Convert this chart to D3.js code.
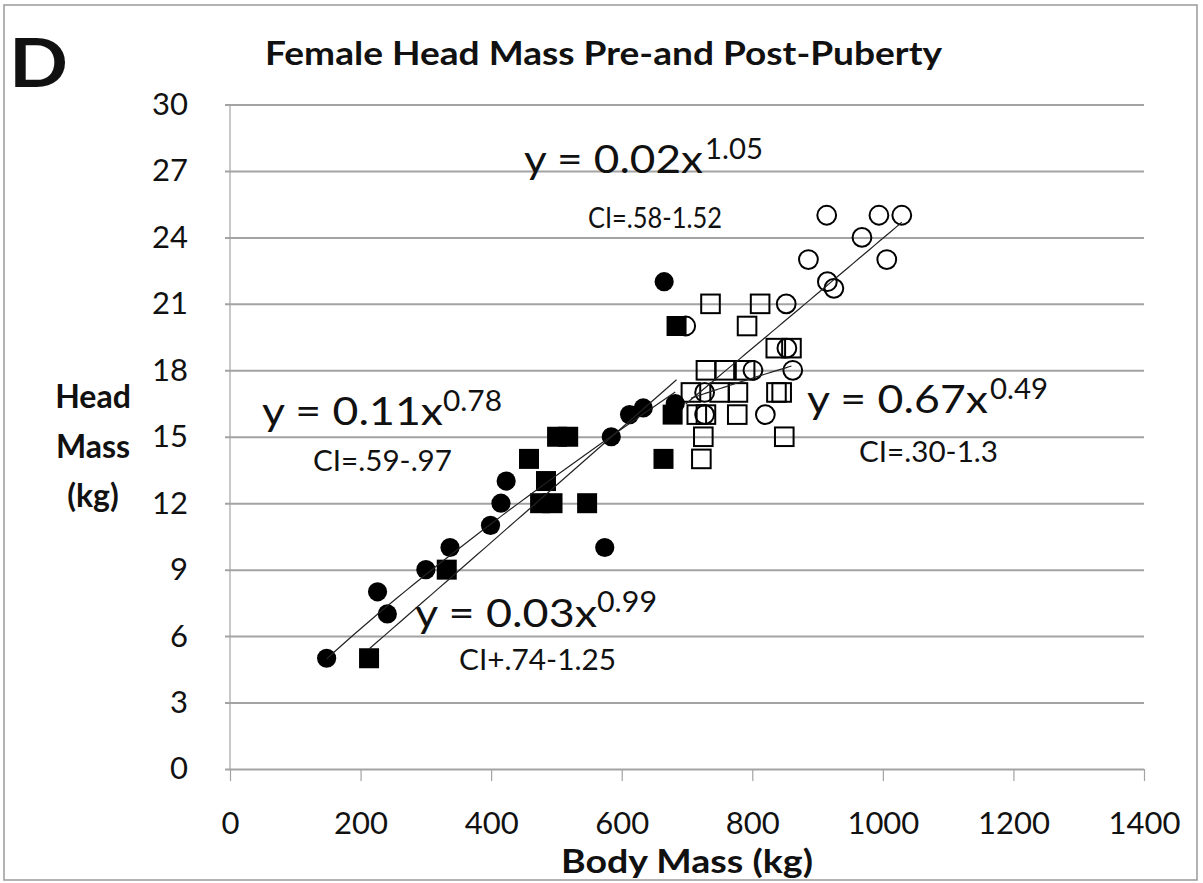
<!DOCTYPE html>
<html>
<head>
<meta charset="utf-8">
<script src="https://cdn.jsdelivr.net/npm/d3@7"></script>
<style>
html,body{margin:0;padding:0;background:#fff;}
svg{display:block;}
text{font-family:Lato,"Open Sans","Liberation Sans",sans-serif;fill:#111;}
</style>
</head>
<body>
<svg id="chart" width="1203" height="883"></svg>
<script>
// ---------- data ----------
const xTicks = [0, 200, 400, 600, 800, 1000, 1200, 1400];
const yTicks = [0, 3, 6, 9, 12, 15, 18, 21, 24, 27, 30];

// pre-puberty (filled circles)
const preCircleX = [148, 226, 241, 300, 337, 399, 415, 423, 574, 584, 612, 633, 682, 665];
const preCircleY = [5, 8, 7, 9, 10, 11, 12, 13, 10, 15, 16, 16.3, 16.5, 22];
// pre-puberty (filled squares)
const preSquareX = [213, 332, 458, 484, 475, 494, 501, 518, 547, 664, 678, 684];
const preSquareY = [5, 9, 14, 13, 12, 12, 15, 15, 12, 14, 16, 20];
// post-puberty (open circles)
const postCircleX = [698, 914, 994, 1029, 968, 886, 1006, 915, 925, 852, 853, 801, 862, 727, 727, 820];
const postCircleY = [20, 25, 25, 25, 24, 23, 23, 22, 21.7, 21, 19, 18, 18, 17, 16, 16];
// post-puberty (open squares)
const postSquareX = [736, 812, 792, 836, 860, 729, 758, 789, 706, 750, 778, 837, 845, 715, 729, 777, 725, 849, 722];
const postSquareY = [21, 21, 20, 19, 19, 18, 18, 18, 17, 17, 17, 17, 17, 16, 16, 16, 15, 15, 14];

// power trend lines y = a * x^b (fitted to the drawn lines)
const trendA = [0.0885, 0.02432, 0.01805, 1.048];
const trendB = [0.806, 1.0084, 1.041, 0.4224];
const trendSeriesX = [preCircleX, preSquareX, postCircleX, postSquareX];

// equation labels
const eqMain = ["y = 0.11x", "y = 0.03x", "y = 0.02x", "y = 0.67x"];
const eqSup = ["0.78", "0.99", "1.05", "0.49"];
const ciText = ["CI=.59-.97", "CI+.74-1.25", "CI=.58-1.52", "CI=.30-1.3"];

const titleText = "Female Head Mass Pre-and Post-Puberty";
const panelLetter = "D";
const xTitle = "Body Mass (kg)";
const yTitleLines = ["Head", "Mass", "(kg)"];

// ---------- chart ----------
const svg = d3.select("#chart");
const x = d3.scaleLinear().domain([0, 1400]).range([230, 1144]);
const y = d3.scaleLinear().domain([0, 30]).range([769, 104.5]);

// frame
svg.append("rect").attr("x", 4).attr("y", 5).attr("width", 1193).attr("height", 875)
  .attr("fill", "none").attr("stroke", "#9a9a9a").attr("stroke-width", 1.5);

// y axis with gridlines
const yAxis = svg.append("g").attr("transform", "translate(225,0)")
  .call(d3.axisLeft(y).tickValues(yTicks).tickSize(-919).tickPadding(37).tickFormat(d3.format("d")));
yAxis.select(".domain").remove();
yAxis.selectAll(".tick line").attr("stroke", "#a3a3a3").attr("stroke-width", 2);
yAxis.selectAll(".tick text").attr("font-size", 31).attr("fill", "#111")
  .style("font-family", "Lato, 'Open Sans', sans-serif");

// vertical axis line
svg.append("line").attr("x1", x(0)).attr("x2", x(0)).attr("y1", y(30)).attr("y2", y(0))
  .attr("stroke", "#a3a3a3").attr("stroke-width", 1.2);

// x axis
const xAxis = svg.append("g").attr("transform", `translate(0,${y(0)})`)
  .call(d3.axisBottom(x).tickValues(xTicks).tickSize(12).tickPadding(31).tickFormat(d3.format("d")));
xAxis.select(".domain").remove();
xAxis.selectAll(".tick line").attr("stroke", "#a3a3a3").attr("stroke-width", 1.2);
xAxis.selectAll(".tick text").attr("font-size", 31).attr("fill", "#111")
  .style("font-family", "Lato, 'Open Sans', sans-serif");

// markers
const zip = (xs, ys) => xs.map((v, i) => [v, ys[i]]);
const mk = svg.append("g");
mk.selectAll("circle.pc").data(zip(preCircleX, preCircleY)).enter().append("circle")
  .attr("cx", d => x(d[0])).attr("cy", d => y(d[1])).attr("r", 9.6).attr("fill", "#000");
mk.selectAll("rect.ps").data(zip(preSquareX, preSquareY)).enter().append("rect")
  .attr("x", d => x(d[0]) - 10).attr("y", d => y(d[1]) - 10).attr("width", 20).attr("height", 20).attr("fill", "#000");
mk.selectAll("circle.oc").data(zip(postCircleX, postCircleY)).enter().append("circle")
  .attr("cx", d => x(d[0])).attr("cy", d => y(d[1])).attr("r", 9.4)
  .attr("fill", "none").attr("stroke", "#000").attr("stroke-width", 2);
mk.selectAll("rect.os").data(zip(postSquareX, postSquareY)).enter().append("rect")
  .attr("x", d => x(d[0]) - 9.3).attr("y", d => y(d[1]) - 9.3).attr("width", 18.6).attr("height", 18.6)
  .attr("fill", "none").attr("stroke", "#000").attr("stroke-width", 2);

// trend lines
const line = d3.line().x(d => x(d[0])).y(d => y(d[1]));
trendA.forEach((a, i) => {
  const [lo, hi] = d3.extent(trendSeriesX[i]);
  const pts = d3.range(0, 41).map(k => {
    const xv = lo + (hi - lo) * k / 40;
    return [xv, a * Math.pow(xv, trendB[i])];
  });
  svg.append("path").attr("d", line(pts)).attr("fill", "none")
    .attr("stroke", "#222").attr("stroke-width", 1.2);
});

// equation labels
const eqMainPos = [[262, 425, 181], [415, 627, 182], [524, 173, 179], [807, 413, 181]];
const eqSupPos = [[443, 411, 59], [597, 612, 60], [705, 159, 58], [990, 399, 58]];
const ciPos = [[313, 471, 139], [459, 670, 157], [588, 228, 134], [859, 462, 139]];
const addText = (t, p, size, weight) => svg.append("text").attr("x", p[0]).attr("y", p[1])
  .attr("font-size", size).attr("font-weight", weight || "normal")
  .attr("textLength", p[2]).attr("lengthAdjust", "spacingAndGlyphs").text(t);
eqMain.forEach((t, i) => addText(t, eqMainPos[i], 39));
eqSup.forEach((t, i) => addText(t, eqSupPos[i], 28));
ciText.forEach((t, i) => addText(t, ciPos[i], 28));

// titles
addText(panelLetter, [9, 87, 59], 66, "bold");
addText(titleText, [265, 65, 677], 32, "bold");
svg.append("text").attr("x", 687).attr("y", 873).attr("text-anchor", "middle")
  .attr("font-size", 32).attr("font-weight", "bold")
  .attr("textLength", 252).attr("lengthAdjust", "spacingAndGlyphs").text(xTitle);
yTitleLines.forEach((t, i) => {
  svg.append("text").attr("x", 93).attr("y", 408 + i * 49.5).attr("text-anchor", "middle")
    .attr("font-size", 32).attr("font-weight", "bold").text(t);
});
</script>
</body>
</html>
